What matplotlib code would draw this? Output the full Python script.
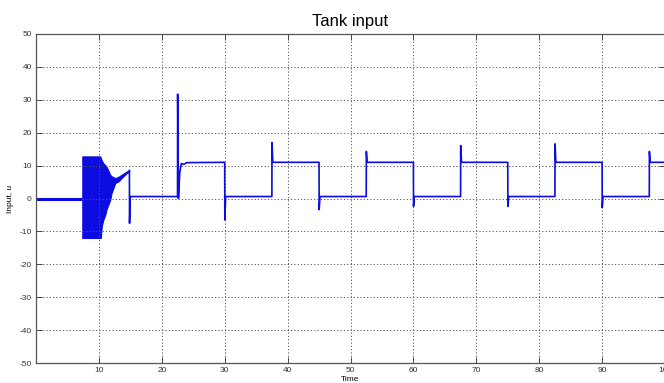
import numpy as np
import matplotlib
matplotlib.use("Agg")
import matplotlib.pyplot as plt

plt.rcParams['font.family'] = ['Liberation Sans', 'DejaVu Sans']
plt.rcParams['axes.unicode_minus'] = False

# Chattering phase of the controller: envelope of the fast switching
chatter_t = [7.36, 10.2, 10.3, 10.45, 10.7, 11.0, 11.2, 11.5, 11.8, 12.0, 12.3, 12.6, 13.1, 13.6, 14.4, 14.7, 14.85]
chatter_hi = [12.8, 12.8, 12.4, 11.6, 10.7, 10.2, 9.7, 8.5, 7.2, 6.8, 6.5, 6.2, 6.6, 7.2, 8.2, 8.5, 8.5]
chatter_lo = [-12.0, -12.0, -12.0, -8.5, -6.5, -5.0, -3.4, -1.9, -0.4, 1.6, 3.1, 4.7, 5.2, 6.2, 7.7, 8.0, 8.5]

# Square-wave phase: switching instants, overshoot peaks and steady levels
t_down = [14.85, 30.0, 45.0, 60.0, 75.0, 90.0]
peak_down = [-7.5, -6.5, -3.4, -2.4, -2.4, -2.8]
t_up = [22.5, 37.5, 52.5, 67.5, 82.5, 97.5]
peak_up = [31.7, 17.0, 14.3, 16.1, 16.6, 14.3]
level_low = 0.6
level_high = 11.0
level_idle = 0.0
t_start = 0.0
t_end = 100.0

# Settling after the first rising switch (offset from switch, value)
settle_dt = [0.15, 0.35, 0.6, 1.0, 1.5]
settle_val = [0.0, 7.8, 10.6, 10.4, 10.9]

# Assemble the piecewise trace
tt = [t_start, chatter_t[0]]
uu = [level_idle, level_idle]
for i in range(len(t_down)):
    if i == 0:
        tt.append(t_down[i]); uu.append(chatter_hi[-1])
    else:
        tt.append(t_down[i]); uu.append(level_high)
    tt.append(t_down[i] + 0.02); uu.append(peak_down[i])
    tt.append(t_down[i] + 0.15); uu.append(level_low)
    tt.append(t_up[i]); uu.append(level_low)
    tt.append(t_up[i] + 0.02); uu.append(peak_up[i])
    if i == 0:
        for dt, v in zip(settle_dt, settle_val):
            tt.append(t_up[i] + dt); uu.append(v)
    else:
        tt.append(t_up[i] + 0.15); uu.append(level_high)
tt.append(t_end); uu.append(level_high)

W, H = 664, 383
fig = plt.figure(figsize=(W / 100, H / 100), dpi=100)
ax = fig.add_axes([36 / W, 20 / H, 629 / W, 329 / H])

line_color = '#0c0ce0'
ax.plot(tt[:2], uu[:2], color=line_color, lw=2.2, solid_capstyle='butt')
ax.fill_between(chatter_t, chatter_lo, chatter_hi, color=line_color, lw=0.8, edgecolor=line_color)
ax.plot(tt[2:], uu[2:], color=line_color, lw=1.2)

ax.set_xlim(0, 100)
ax.set_ylim(-50, 50)
ax.set_xticks(np.arange(10, 101, 10))
ax.set_yticks(np.arange(-50, 51, 10))
ax.grid(True, color='#555555', linestyle=(0, (1.2, 2.2)), lw=0.7)
ax.tick_params(direction='in', length=4, width=0.6, labelsize=6,
               top=True, right=True, colors='#333333', pad=3)
for s in ax.spines.values():
    s.set_color('#555555')
    s.set_linewidth(0.9)

ax.set_title('Tank input', fontsize=12, pad=6)
ax.set_xlabel('Time', fontsize=6, labelpad=1)
ax.set_ylabel('Input, u', fontsize=6, labelpad=4)

fig.savefig('out.png', dpi=100)
